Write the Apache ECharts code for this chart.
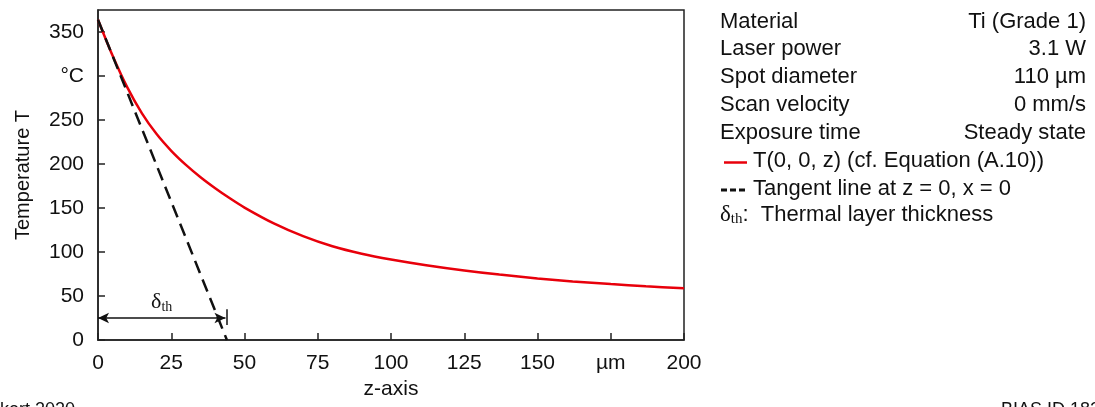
<!DOCTYPE html>
<html>
<head>
<meta charset="utf-8">
<script src="https://cdn.jsdelivr.net/npm/echarts@6/dist/echarts.min.js"></script>
<style>
  html, body { margin: 0; padding: 0; background: #fff; }
  #chart { width: 1095px; height: 407px; }
</style>
</head>
<body>
<div id="chart"></div>
<script>
// temperature along z (red curve)
var zPos = [0, 5, 10, 15, 20, 25, 30, 35, 40, 45, 50, 60, 70, 80, 90, 100, 112, 125, 137, 150, 162, 175, 187, 200];
var tempT = [364, 323, 287, 257.5, 234, 215, 199, 185, 172.5, 161, 150.5, 132.5, 118, 106.5, 98, 91.5, 85, 79, 74.3, 70, 66.6, 63.5, 61, 58.8];

// tangent line at z = 0
var tangentZ = [0, 44];
var tangentT = [364, 0];

// thermal layer thickness marker
var deltaZ = 43.5;
var deltaT = 25;

var infoLabels = ['Material', 'Laser power', 'Spot diameter', 'Scan velocity', 'Exposure time'];
var infoValues = ['Ti (Grade 1)', '3.1 W', '110 µm', '0 mm/s', 'Steady state'];

var NAME_CURVE = 'T(0, 0, z) (cf. Equation (A.10))';
var NAME_TANGENT = 'Tangent line at z = 0, x = 0';
var FONT = 'Liberation Sans, Arial, sans-serif';
var SERIF = 'Liberation Serif, Times New Roman, serif';
var RED = '#e8000b';
var INK = '#111';

var chart = echarts.init(document.getElementById('chart'));

function pairs(xs, ys) {
  return xs.map(function(x, i) { return [x, ys[i]]; });
}

var graphics = [];
infoLabels.forEach(function(lbl, i) {
  var y = 22.7 + i * 27.7;
  graphics.push({
    type: 'text', left: 720, top: y - 12,
    style: { text: lbl, font: '22px ' + FONT, fill: INK }
  });
  graphics.push({
    type: 'text', right: 9, top: y - 12,
    style: { text: infoValues[i], font: '22px ' + FONT, fill: INK, textAlign: 'right' }
  });
});
// legend rows (drawn by hand so the icons are plain line samples)
graphics.push({
  type: 'line', shape: { x1: 724, y1: 162.5, x2: 747, y2: 162.5 },
  style: { stroke: RED, lineWidth: 2.5 }
});
graphics.push({
  type: 'text', left: 753, top: 150,
  style: { text: NAME_CURVE, font: '22px ' + FONT, fill: INK }
});
graphics.push({
  type: 'line', shape: { x1: 721, y1: 190, x2: 748, y2: 190 },
  style: { stroke: INK, lineWidth: 3, lineDash: [6, 3] }
});
graphics.push({
  type: 'text', left: 753, top: 178,
  style: { text: NAME_TANGENT, font: '22px ' + FONT, fill: INK }
});
graphics.push({
  type: 'text', left: 720, top: 203,
  style: {
    text: '{d|δ}{s|th}{n|:  Thermal layer thickness}',
    rich: {
      d: { fontFamily: SERIF, fontSize: 23, fill: INK },
      s: { fontFamily: SERIF, fontSize: 15, fill: INK, padding: [10, 0, 0, 0] },
      n: { fontFamily: FONT, fontSize: 22, fill: INK }
    }
  }
});
graphics.push({
  type: 'text', left: 0, top: 401,
  style: { text: 'kert 2020', font: '18px ' + FONT, fill: INK }
});
graphics.push({
  type: 'text', left: 1001, top: 401,
  style: { text: 'BIAS ID 1823', font: '18px ' + FONT, fill: INK }
});

var option = {
  animation: false,
  backgroundColor: '#fff',
  textStyle: { fontFamily: FONT },
  grid: {
    left: 98, right: 411, top: 10, bottom: 67,
    show: true, borderColor: '#222', borderWidth: 1.5
  },
  xAxis: {
    type: 'value', min: 0, max: 200, interval: 25,
    name: 'z-axis', nameLocation: 'middle', nameGap: 38,
    nameTextStyle: { fontSize: 21, color: INK },
    axisLine: { lineStyle: { color: '#222', width: 1.5 } },
    axisTick: { inside: true, length: 7, lineStyle: { color: '#222', width: 1.5 } },
    axisLabel: {
      fontSize: 21, color: INK, margin: 13,
      formatter: function(v) { return v === 175 ? 'µm' : v; }
    },
    splitLine: { show: false }
  },
  yAxis: {
    type: 'value', min: 0, max: 375, interval: 50,
    name: 'Temperature T', nameLocation: 'middle', nameGap: 65,
    nameTextStyle: { fontSize: 20, color: INK },
    axisLine: { show: true, lineStyle: { color: '#222', width: 1.5 } },
    axisTick: { show: true, inside: true, length: 7, lineStyle: { color: '#222', width: 1.5 } },
    axisLabel: {
      fontSize: 21, color: INK, margin: 14, showMaxLabel: false,
      formatter: function(v) { return v === 300 ? '°C' : v; }
    },
    splitLine: { show: false }
  },
  series: [
    {
      name: NAME_CURVE, type: 'line', smooth: 0.3, symbol: 'none',
      data: pairs(zPos, tempT),
      lineStyle: { color: RED, width: 2.5 },
      itemStyle: { color: RED },
      z: 3
    },
    {
      name: NAME_TANGENT, type: 'line', symbol: 'none',
      data: pairs(tangentZ, tangentT),
      lineStyle: { color: INK, width: 2.5, type: [13, 7] },
      itemStyle: { color: INK },
      z: 4
    },
    {
      name: 'delta', type: 'line', data: [], symbol: 'none',
      markLine: {
        silent: true, animation: false,
        symbol: ['arrow', 'arrow'], symbolSize: [8, 11],
        lineStyle: { color: INK, width: 1.5, type: 'solid' },
        data: [
          [
            {
              coord: [0, deltaT],
              label: {
                show: true, position: 'middle', distance: 4,
                formatter: '{d|δ}{s|th}',
                rich: {
                  d: { fontFamily: SERIF, fontSize: 22, color: INK },
                  s: { fontFamily: SERIF, fontSize: 14, color: INK, padding: [10, 0, 0, 0] }
                }
              }
            },
            { coord: [deltaZ, deltaT] }
          ],
          [
            { coord: [deltaZ + 0.5, 17], symbol: 'none', label: { show: false } },
            { coord: [deltaZ + 0.5, 35], symbol: 'none' }
          ]
        ]
      }
    }
  ],
  graphic: graphics
};

chart.setOption(option);
</script>
</body>
</html>
